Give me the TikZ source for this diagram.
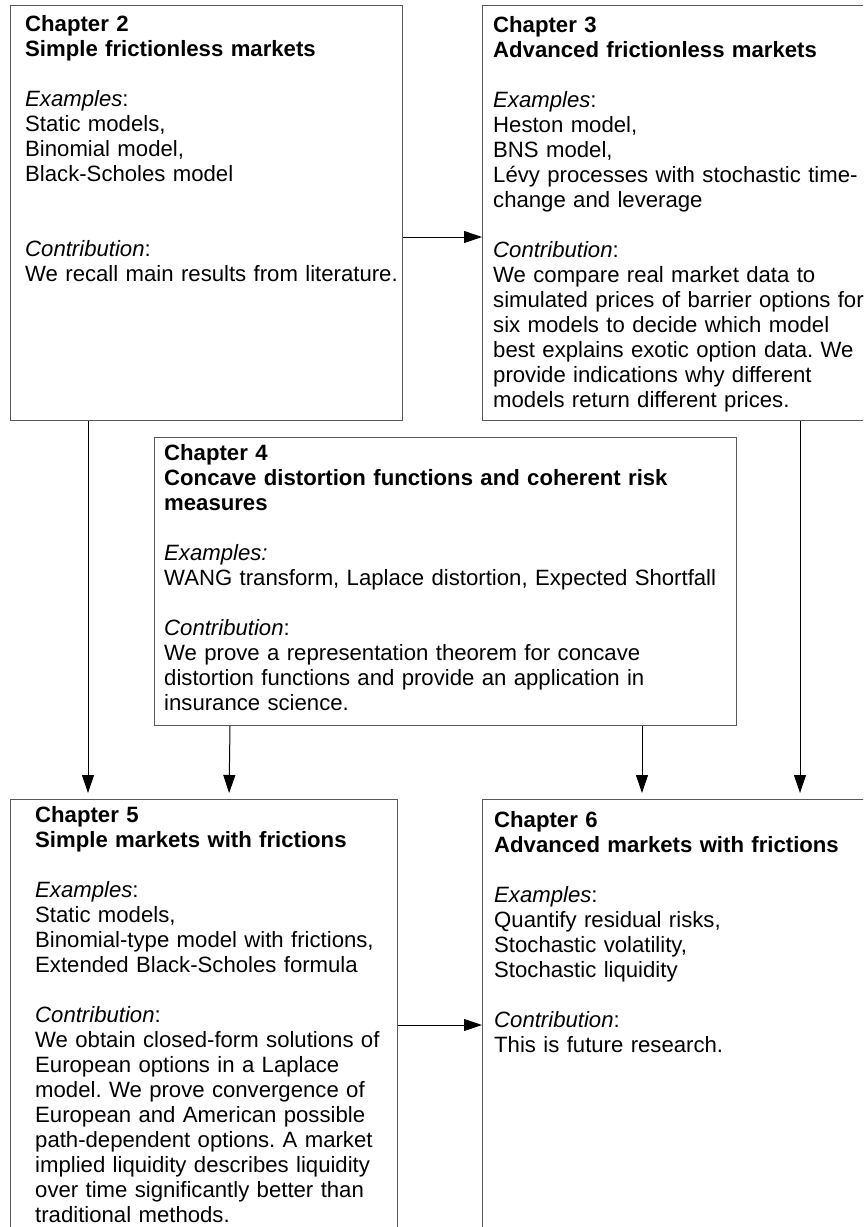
\documentclass[tikz,border=0pt]{standalone}
\usepackage{fontspec}
\setmainfont{Liberation Sans}
\usetikzlibrary{arrows.meta,calc}
\frenchspacing
\tikzset{
  box/.style={draw=black!65, line width=1.2pt, rectangle, inner sep=0pt, anchor=north west},
  txt/.style={text width=640pt, align=left, inner sep=0pt, anchor=base west, font=\frenchspacing\fontsize{22.15}{25}\selectfont},
  arr/.style={draw=black, line width=1pt, -{Triangle[length=18pt,width=12pt]}}
}
\begin{document}
\begin{tikzpicture}[x=1pt,y=-1pt]
\useasboundingbox (0,0) rectangle (863,1227);
\fill[white] (0,0) rectangle (863,1227);
\clip (0,0) rectangle (863,1227);
% boxes
\node[box, minimum width=392pt, minimum height=415pt] (c2) at (10,5) {};
\node[box, minimum width=500pt, minimum height=415pt] (c3) at (482,5) {};
\node[box, minimum width=582pt, minimum height=288pt] (c4) at (154,437) {};
\node[box, minimum width=387pt, minimum height=500pt] (c5) at (10,799) {};
\node[box, minimum width=500pt, minimum height=500pt] (c6) at (482,799) {};
% texts
\node[txt] (t2) at (25,31) {\textbf{Chapter 2}\\\textbf{Simple frictionless markets}\\[25pt]
\textit{Examples}:\\Static models,\\Binomial model,\\Black-Scholes model\\[50pt]
\textit{Contribution}:\\We recall main results from literature.};
\node[txt] (t3) at (493,32) {\textbf{Chapter 3}\\\textbf{Advanced frictionless markets}\\[25pt]
\textit{Examples}:\\Heston model,\\BNS model,\\Lévy processes with stochastic time-\\change and leverage\\[25pt]
\textit{Contribution}:\\We compare real market data to\\simulated prices of barrier options for\\six models to decide which model\\best explains exotic option data. We\\provide indications why different\\models return different prices.};
\node[txt] (t4) at (164,460) {\textbf{Chapter 4}\\\textbf{Concave distortion functions and coherent risk}\\\textbf{measures}\\[25pt]
\textit{Examples:}\\WANG transform, Laplace distortion, Expected Shortfall\\[25pt]
\textit{Contribution}:\\We prove a representation theorem for concave\\distortion functions and provide an application in\\insurance science.};
\node[txt] (t5) at (35,822) {\textbf{Chapter 5}\\\textbf{Simple markets with frictions}\\[25pt]
\textit{Examples}:\\Static models,\\Binomial-type model with frictions,\\Extended Black-Scholes formula\\[25pt]
\textit{Contribution}:\\We obtain closed-form solutions of\\European options in a Laplace\\model. We prove convergence of\\European and American possible\\path-dependent options. A market\\implied liquidity describes liquidity\\over time significantly better than\\traditional methods.};
\node[txt] (t6) at (494,827) {\textbf{Chapter 6}\\\textbf{Advanced markets with frictions}\\[25pt]
\textit{Examples}:\\Quantify residual risks,\\Stochastic volatility,\\Stochastic liquidity\\[25pt]
\textit{Contribution}:\\This is future research.};
% connectors
\draw[arr] ($(c2.north east)+(0,232)$) -- ($(c3.north west)+(0,232)$);
\draw[arr] ($(c5.north east)+(0,226)$) -- ($(c6.north west)+(0,226)$);
\draw[arr, shorten >=6pt] ($(c2.south west)+(78,0)$) -- ($(c5.north west)+(78,0)$);
\draw[arr, shorten >=6pt] ($(c4.south west)+(76,0)$) -- ($(c5.north west)+(219,0)$);
\draw[arr, shorten >=6pt] ($(c4.south west)+(488,0)$) -- ($(c6.north west)+(160,0)$);
\draw[arr, shorten >=6pt] ($(c3.south west)+(318,0)$) -- ($(c6.north west)+(318,0)$);
\end{tikzpicture}
\end{document}
